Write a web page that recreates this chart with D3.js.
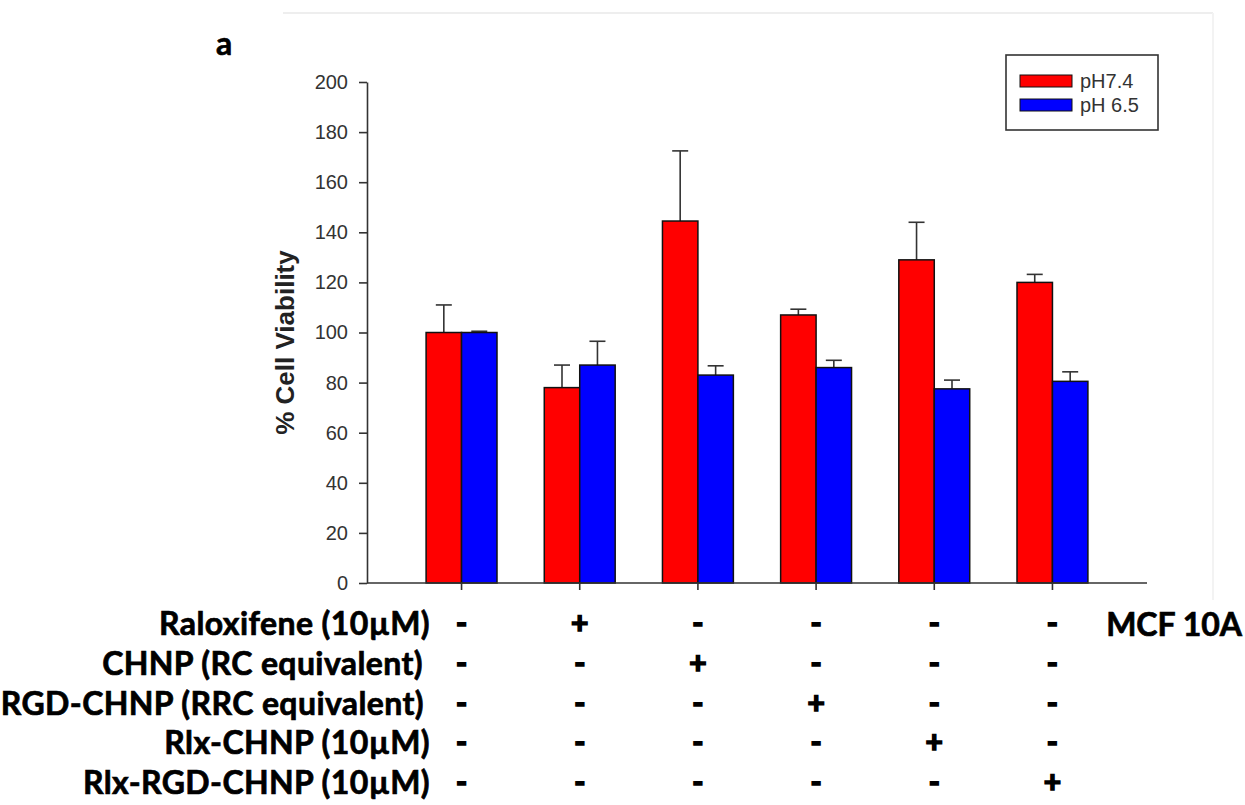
<!DOCTYPE html>
<html>
<head>
<meta charset="utf-8">
<script src="https://cdn.jsdelivr.net/npm/d3@7"></script>
<style>
  body { margin: 0; background: #fff; }
  svg { display: block; }
  .tick text { font-family: "Liberation Sans", Arial, sans-serif; }
</style>
</head>
<body>
<div id="graph"></div>
<script>
// values (MCF 10A, % viability)
const groups = ["ctrl", "ralox", "chnp", "rgdChnp", "rlxChnp", "rlxRgdChnp"];
const series = ["pH7.4", "pH 6.5"];
const ph74 = [100, 78, 144.5, 107, 129, 120];
const ph74Err = [11, 9, 28, 2.3, 15, 3.2];
const ph65 = [100, 87, 83, 86, 77.5, 80.5];
const ph65Err = [0.5, 9.5, 3.7, 2.9, 3.5, 3.8];
const yTicks = [0, 20, 40, 60, 80, 100, 120, 140, 160, 180, 200];
const rowLabels = ["Raloxifene (10\u00b5M)", "CHNP (RC equivalent)", "RGD-CHNP (RRC equivalent)", "Rlx-CHNP (10\u00b5M)", "Rlx-RGD-CHNP (10\u00b5M)"];
const signs = [
  ["-", "+", "-", "-", "-", "-"],
  ["-", "-", "+", "-", "-", "-"],
  ["-", "-", "-", "+", "-", "-"],
  ["-", "-", "-", "-", "+", "-"],
  ["-", "-", "-", "-", "-", "+"]
];
const colors = ["#ff0000", "#0000ff"];

const W = 1245, H = 805;
const m = { left: 367, right: 1147, top: 82, bottom: 583 };
const bold = "Lato, 'Open Sans', sans-serif";

const svg = d3.select("#graph").append("svg").attr("width", W).attr("height", H);
svg.append("rect").attr("width", W).attr("height", H).attr("fill", "#fff");

// faint page border of the original scan
svg.append("line").attr("x1", 283).attr("x2", 1213).attr("y1", 13).attr("y2", 13).attr("stroke", "#eeeeee").attr("stroke-width", 2);
svg.append("line").attr("x1", 1213).attr("x2", 1213).attr("y1", 13).attr("y2", 600).attr("stroke", "#f3f3f3").attr("stroke-width", 2);

const x = d3.scaleBand().domain(groups).range([m.left, m.right]).paddingInner(0.4).paddingOuter(0.5);
const x1 = d3.scaleBand().domain(series).range([0, x.bandwidth()]);
const y = d3.scaleLinear().domain([0, 200]).range([m.bottom, m.top]);

const table = groups.map((g, i) => ({
  g,
  bars: [
    { s: series[0], v: ph74[i], e: ph74Err[i] },
    { s: series[1], v: ph65[i], e: ph65Err[i] }
  ]
}));

// y axis
const yAxis = svg.append("g")
  .attr("transform", `translate(${m.left},0)`)
  .call(d3.axisLeft(y).tickValues(yTicks).tickSize(8).tickPadding(11).tickSizeOuter(0));
yAxis.selectAll("text").attr("font-size", 20).attr("fill", "#333");
yAxis.selectAll("line, path").attr("stroke", "#333").attr("stroke-width", 1.6);

svg.append("text")
  .attr("transform", `translate(294,${y(96)}) rotate(-90)`)
  .attr("text-anchor", "middle")
  .attr("font-family", "'Liberation Sans', Arial, sans-serif")
  .attr("font-weight", "bold")
  .attr("font-size", 26)
  .attr("fill", "#222")
  .text("% Cell Viability");

// bars
const grp = svg.append("g").selectAll("g").data(table).join("g")
  .attr("transform", (d) => `translate(${x(d.g)},0)`);

grp.selectAll("line.err").data((d) => d.bars).join("line")
  .attr("class", "err")
  .attr("x1", (d) => x1(d.s) + x1.bandwidth() / 2)
  .attr("x2", (d) => x1(d.s) + x1.bandwidth() / 2)
  .attr("y1", (d) => y(d.v))
  .attr("y2", (d) => y(d.v + d.e))
  .attr("stroke", "#333").attr("stroke-width", 1.6);
grp.selectAll("line.cap").data((d) => d.bars).join("line")
  .attr("class", "cap")
  .attr("x1", (d) => x1(d.s) + x1.bandwidth() / 2 - 8)
  .attr("x2", (d) => x1(d.s) + x1.bandwidth() / 2 + 8)
  .attr("y1", (d) => y(d.v + d.e))
  .attr("y2", (d) => y(d.v + d.e))
  .attr("stroke", "#333").attr("stroke-width", 1.6);

grp.selectAll("rect").data((d) => d.bars).join("rect")
  .attr("x", (d) => x1(d.s))
  .attr("y", (d) => y(d.v))
  .attr("width", x1.bandwidth())
  .attr("height", (d) => y(0) - y(d.v))
  .attr("fill", (d, i) => colors[i])
  .attr("stroke", "#111").attr("stroke-width", 1.5);

// x axis
const xAxis = svg.append("g")
  .attr("transform", `translate(0,${m.bottom})`)
  .call(d3.axisBottom(x).tickSize(7).tickSizeOuter(0).tickFormat(""));
xAxis.select(".domain").attr("d", `M${m.left},0H${m.right}`);
xAxis.selectAll("line, path").attr("stroke", "#333").attr("stroke-width", 1.6);

// legend
const lg = svg.append("g");
lg.append("rect").attr("x", 1006).attr("y", 55).attr("width", 152).attr("height", 75)
  .attr("fill", "#fff").attr("stroke", "#333").attr("stroke-width", 1.6);
series.forEach((s, i) => {
  const cy = 81 + i * 24;
  lg.append("rect").attr("x", 1020).attr("y", cy - 6).attr("width", 52).attr("height", 12)
    .attr("fill", colors[i]).attr("stroke", "#111").attr("stroke-width", 1);
  lg.append("text").attr("x", 1080).attr("y", cy + 7)
    .attr("font-family", "'Liberation Sans', Arial, sans-serif").attr("font-size", 20).attr("fill", "#333")
    .text(s);
});

// treatment table
const rowY = [624, 664, 704, 743, 783];
const rowEnd = [430, 423, 424, 430, 430];
svg.append("g").selectAll("text").data(rowLabels).join("text")
  .attr("x", (d, i) => rowEnd[i]).attr("y", (d, i) => rowY[i] + 11)
  .attr("text-anchor", "end")
  .attr("font-family", bold).attr("font-weight", 700).attr("font-size", 32)
  .attr("letter-spacing", 0.4)
  .attr("stroke", "#000").attr("stroke-width", 0.7)
  .text((d) => d);

signs.forEach((row, r) => {
  svg.append("g").selectAll("text").data(row).join("text")
    .attr("x", (d, i) => x(groups[i]) + x.bandwidth() / 2)
    .attr("y", rowY[r] + 10)
    .attr("text-anchor", "middle")
    .attr("font-family", bold).attr("font-weight", 700).attr("font-size", 30)
    .attr("stroke", "#000").attr("stroke-width", 1.6)
    .text((d) => d);
});

svg.append("text").attr("x", 1242).attr("y", 636).attr("text-anchor", "end")
  .attr("font-family", bold).attr("font-weight", 700).attr("font-size", 32)
  .attr("stroke", "#000").attr("stroke-width", 0.7)
  .text("MCF 10A");

svg.append("text").attr("x", 216).attr("y", 55)
  .attr("font-family", bold).attr("font-weight", 700).attr("font-size", 32)
  .attr("stroke", "#000").attr("stroke-width", 0.6)
  .text("a");
</script>
</body>
</html>
